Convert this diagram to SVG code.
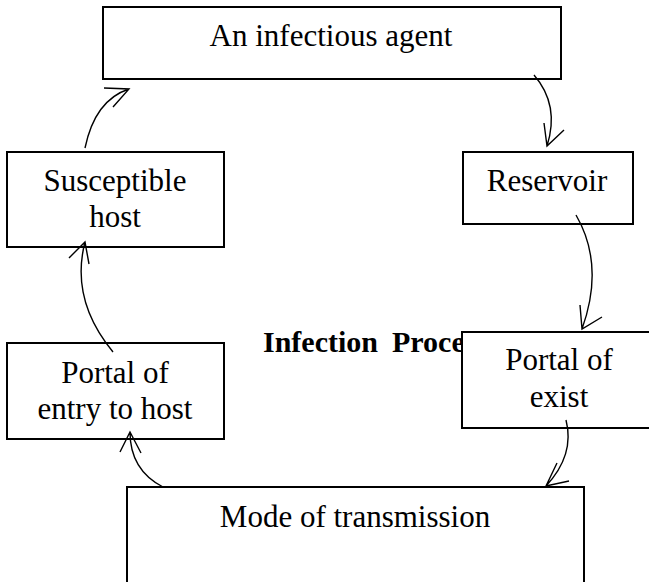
<svg xmlns="http://www.w3.org/2000/svg" width="649" height="582" viewBox="0 0 649 582">
<style>
.box{fill:#fff;stroke:#000;stroke-width:2}
.t{font-family:"Liberation Serif","Times New Roman",serif;font-size:31px;fill:#000;text-anchor:middle}
.title{font-family:"Liberation Serif","Times New Roman",serif;font-size:30px;font-weight:bold;fill:#000}
.c{fill:none;stroke:#000;stroke-width:1.4}
</style>
<rect width="649" height="582" fill="#fff"/>
<text class="title" x="263" y="352">Infection <tspan x="392">Proce</tspan></text>
<g id="agent"><rect class="box" x="103" y="7" width="458" height="72"/><text class="t" x="331" y="46">An infectious agent</text></g>
<g id="reservoir"><rect class="box" x="463" y="152" width="170" height="72"/><text class="t" x="547" y="191">Reservoir</text></g>
<g id="exit"><rect class="box" x="462" y="332" width="197" height="96"/><text class="t" x="559" y="370">Portal of</text><text class="t" x="559" y="407">exist</text></g>
<g id="mode"><rect class="box" x="127" y="487" width="457" height="110"/><text class="t" x="355" y="527">Mode of transmission</text></g>
<g id="entry"><rect class="box" x="7" y="343" width="217" height="96"/><text class="t" x="115" y="383">Portal of</text><text class="t" x="115" y="419">entry to host</text></g>
<g id="host"><rect class="box" x="7" y="152" width="217" height="95"/><text class="t" x="115" y="191">Susceptible</text><text class="t" x="115" y="227">host</text></g>
<g id="connectors">
<path class="c" d="M534,75 Q560,105 547,146 M544,123 L547,146 L564,130"/>
<path class="c" d="M576,215 Q605,265 582,329 M580,305 L582,329 L602,317"/>
<path class="c" d="M566,420 Q575,455 546,486 M557,463 L546,486 L569,481"/>
<path class="c" d="M163,487 Q130,470 130,432 M120,452 L130,432 L141,453"/>
<path class="c" d="M113,352 Q70,300 85,242 M69,258 L85,242 L89,264"/>
<path class="c" d="M85,148 Q95,100 129,89 M104,88 L129,89 L113,107"/>
</g>
</svg>
